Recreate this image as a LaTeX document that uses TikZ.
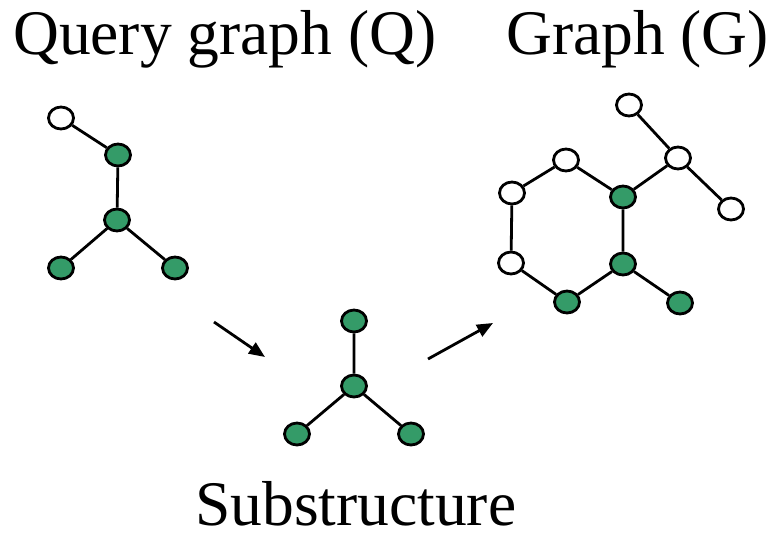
\documentclass[tikz,border=0pt]{standalone}
\usepackage{fontspec}
\setmainfont{Liberation Serif}
\usetikzlibrary{arrows.meta,shapes.geometric}
\definecolor{vgreen}{RGB}{52,155,104}
\begin{document}
\begin{tikzpicture}[x=1pt,y=-1pt,
  vtx/.style={ellipse,draw=black,line width=2.8pt,minimum width=25pt,minimum height=22pt,inner sep=0pt},
  gv/.style={vtx,fill=vgreen},
  wv/.style={vtx,fill=white},
  edge/.style={line width=2.8pt},
  flow/.style={line width=2.8pt,-{Triangle[length=16pt,width=13pt]}},
  title/.style={font=\fontsize{63.5}{70}\selectfont,inner sep=0pt,anchor=base west}]
\useasboundingbox (0,0) rectangle (775,538);
% titles
\node[title] (tq) at (13,54) {Query graph (Q)};
\node[title] (tg) at (506,54) {Graph (G)};
\node[title] (ts) at (195,525) {Substructure};
% query graph
\node[wv] (q1) at (61,118) {};
\node[gv] (q2) at (118,155) {};
\node[gv] (q3) at (117,220) {};
\node[gv] (q4) at (61,268) {};
\node[gv] (q5) at (175,268) {};
\draw[edge] (q1) -- (q2) (q2) -- (q3) (q3) -- (q4) (q3) -- (q5);
% substructure
\node[gv] (s1) at (354,321) {};
\node[gv] (s2) at (354,386) {};
\node[gv] (s3) at (297,434) {};
\node[gv] (s4) at (411,434) {};
\draw[edge] (s1) -- (s2) (s2) -- (s3) (s2) -- (s4);
% graph G
\node[wv] (g1) at (629,105) {};
\node[wv] (g2) at (678,158) {};
\node[wv] (g3) at (731,209) {};
\node[wv] (g4) at (566,160) {};
\node[wv] (g5) at (512,193) {};
\node[wv] (g6) at (511,263) {};
\node[gv] (g7) at (567,302) {};
\node[gv] (g8) at (623,264) {};
\node[gv] (g9) at (623,197) {};
\node[gv] (g10) at (680,303) {};
\draw[edge] (g1) -- (g2) (g2) -- (g3) (g2) -- (g9)
  (g4) -- (g9) (g4) -- (g5) (g5) -- (g6) (g6) -- (g7) (g7) -- (g8) (g8) -- (g9) (g8) -- (g10);
% arrows
\coordinate (a1s) at (214,322);
\coordinate (a1e) at (265,357);
\coordinate (a2s) at (428,359);
\coordinate (a2e) at (493,323);
\draw[flow] (a1s) -- (a1e);
\draw[flow] (a2s) -- (a2e);
\end{tikzpicture}
\end{document}
